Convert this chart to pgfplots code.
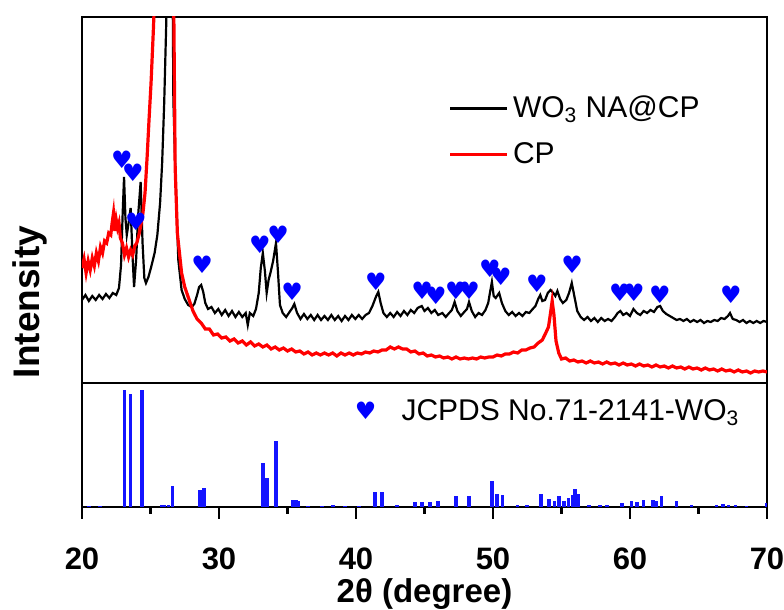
\documentclass[border=0pt]{standalone}
\usepackage{fontspec}
\setmainfont{Liberation Sans}
\newfontfamily\symfont{DejaVu Sans}
\usepackage{pgfplots}
\pgfplotsset{compat=1.18}
\newcommand{\hrt}{{\symfont ♥}}

\pgfplotstableread{
x y
20.0 83
20.25 88
20.5 82
20.75 87
21.0 83
21.25 88
21.5 84
21.75 89
22.0 85
22.25 90
22.5 88
22.7 95
22.85 118
22.97 170
23.07 206
23.17 165
23.27 148
23.4 160
23.55 175
23.68 130
23.8 96
23.95 123
24.1 168
24.28 201
24.42 140
24.55 105
24.67 100
24.85 106
25.05 116
25.3 130
25.5 148
25.7 180
25.85 220
26.0 280
26.15 360
26.3 480
26.45 560
26.6 430
26.67 283
26.84 200
27.03 123
27.27 93
27.5 84
27.75 78
28.0 76
28.2 79
28.4 88
28.55 96
28.7 98
28.85 91
29.0 80
29.2 74
29.45 76
29.7 70
29.95 74
30.2 68
30.45 73
30.7 67
30.95 72
31.2 66
31.45 71
31.7 66
31.95 70
32.1 58
32.25 70
32.5 67
32.7 74
32.9 90
33.05 115
33.2 130
33.35 112
33.48 90
33.62 103
33.77 111
33.95 122
34.16 140
34.3 112
34.45 78
34.65 70
34.9 66
35.15 71
35.35 75
35.5 79
35.7 70
35.95 64
36.2 69
36.45 64
36.7 68
36.95 63
37.2 68
37.45 63
37.7 67
37.95 63
38.2 68
38.45 63
38.7 67
38.95 62
39.2 67
39.45 63
39.7 68
39.95 64
40.2 68
40.45 64
40.7 68
40.95 70
41.2 77
41.45 86
41.63 91
41.8 80
42.0 70
42.25 66
42.5 70
42.75 66
43.0 71
43.25 67
43.5 72
43.75 68
44.0 73
44.25 70
44.5 75
44.8 77
45.0 72
45.25 75
45.5 70
45.75 73
46.0 68
46.3 70
46.55 66
46.8 70
47.0 73
47.2 81
47.4 72
47.65 67
47.9 71
48.1 74
48.25 81
48.45 72
48.7 66
48.95 70
49.2 68
49.45 73
49.65 80
49.8 92
49.92 101
50.05 87
50.2 85
50.45 90
50.65 80
50.9 72
51.15 68
51.4 71
51.65 67
51.9 70
52.15 67
52.4 71
52.65 70
52.9 74
53.1 77
53.3 84
53.45 88
53.6 82
53.8 83
54.0 90
54.2 93
54.4 90
54.55 87
54.7 92
54.9 84
55.1 80
55.35 83
55.55 90
55.75 100
55.95 86
56.15 72
56.4 66
56.65 63
56.9 66
57.15 62
57.4 65
57.65 61
57.9 65
58.15 62
58.4 64
58.65 62
58.9 66
59.1 70
59.3 72
59.5 68
59.75 70
60.0 67
60.25 74
60.5 70
60.75 68
61.0 72
61.25 70
61.5 73
61.75 71
62.0 76
62.2 77
62.4 72
62.65 69
62.9 67
63.15 65
63.4 63
63.65 64
63.9 62
64.15 64
64.4 61
64.65 63
64.9 61
65.15 63
65.4 60
65.65 62
65.9 61
66.15 63
66.4 62
66.65 65
66.9 64
67.15 67
67.3 70
67.5 64
67.75 63
68.0 61
68.25 63
68.5 60
68.75 62
69.0 60
69.25 62
69.5 60
69.75 62
70.0 61
}\wotable

\pgfplotstableread{
x y
20.0 115
20.15 124
20.3 110
20.45 122
20.6 113
20.75 125
20.9 117
21.05 130
21.2 122
21.35 136
21.5 130
21.65 142
21.8 140
21.95 150
22.1 148
22.2 160
22.3 170
22.4 152
22.5 163
22.6 155
22.7 160
22.8 145
22.95 140
23.1 128
23.25 135
23.4 126
23.55 133
23.7 128
23.85 137
24.0 140
24.15 148
24.3 158
24.45 170
24.6 190
24.75 225
24.9 265
25.04 300
25.2 350
25.4 420
25.8 600
26.3 650
26.65 450
26.8 216
26.96 150
27.27 110
27.5 96
27.8 84
28.1 72
28.4 64
28.7 60
29.0 54
29.3 54
29.6 48
29.9 49
30.2 45
30.5 46
30.8 42
31.1 44
31.4 40
31.7 42
32.0 38
32.3 41
32.6 37
32.9 39
33.2 36
33.5 38
33.8 34
34.1 36
34.4 33
34.7 35
35.0 32
35.3 34
35.6 31
35.9 32
36.2 29
36.5 31
36.8 28
37.1 30
37.4 28
37.7 30
38.0 28
38.3 30
38.6 27
38.9 30
39.2 28
39.5 30
39.8 28
40.1 30
40.4 29
40.7 31
41.0 30
41.3 32
41.6 31
41.9 33
42.2 33
42.5 36
42.8 34
43.1 36
43.4 34
43.7 34
44.0 31
44.3 32
44.6 29
44.9 30
45.2 27
45.5 28
45.8 26
46.1 27
46.4 25
46.7 26
47.0 24
47.3 26
47.6 24
47.9 25
48.2 24
48.5 25
48.8 24
49.1 26
49.4 25
49.7 26
50.0 26
50.3 28
50.6 27
50.9 29
51.2 29
51.5 31
51.8 30
52.1 33
52.4 33
52.7 35
53.0 36
53.3 40
53.6 43
53.85 50
54.05 56
54.2 70
54.32 82
54.45 68
54.6 42
54.8 30
55.0 24
55.3 25
55.6 22
55.9 23
56.2 21
56.5 22
56.8 20
57.1 22
57.4 20
57.7 21
58.0 19
58.3 21
58.6 19
58.9 20
59.2 18
59.5 20
59.8 18
60.1 19
60.4 17
60.7 19
61.0 17
61.3 18
61.6 16
61.9 18
62.2 16
62.5 17
62.8 15
63.1 17
63.4 15
63.7 16
64.0 14
64.3 16
64.6 14
64.9 15
65.2 13
65.5 15
65.8 13
66.1 14
66.4 12
66.7 14
67.0 12
67.3 13
67.6 11
67.9 13
68.2 11
68.5 12
68.8 10
69.1 12
69.4 11
69.7 12
70.0 11
}\cptable

\pgfplotstableread{
x y
22.92 223
23.72 210
23.94 161
28.76 118
32.99 138
34.31 148
35.33 91
41.46 101
44.82 92
45.84 87
47.30 92
48.25 92
49.78 114
50.58 106
53.21 99
55.77 118
59.27 90
60.29 90
62.19 88
67.37 88
}\hearts

\pgfplotstableread{
x y
20.5 1
21.3 1
23.11 100
23.53 96.5
24.38 100
25.8 1.5
26.0 1.5
26.3 2
26.6 18
28.6 14.5
28.9 16.5
33.2 38
33.5 25
34.16 56
35.4 6
35.6 6
35.8 5
36.5 1
37.5 1
38.3 1.5
39.2 1
40.2 1
41.4 13
41.9 13
43.0 1.5
44.3 4
44.8 4
45.4 4
46.0 5
47.3 9
48.25 9
49.94 22
50.3 11
50.7 10
51.8 1.5
52.5 1.5
53.5 11
54.1 7
54.5 5
54.8 9
55.2 5
55.5 8
55.8 10
55.97 15
56.2 11
57.0 1.5
57.8 2
58.3 2
59.4 3
60.1 5
60.5 4
61.0 6
61.7 6
61.9 5
62.3 9
63.4 5
64.5 1.5
66.3 2
66.8 2.5
67.2 2
67.7 2
68.5 1
70.0 3
}\sticks

\begin{document}
\begin{tikzpicture}
\useasboundingbox (-41pt,-51.5pt) rectangle (351pt,253.5pt);
\pgfplotsset{
  every axis/.append style={
    scale only axis, width=342.5pt,
    xmin=20, xmax=70,
    axis line style={line width=1.25pt},
  }
}
% bottom panel: reference lines
\begin{axis}[
  at={(0,0)}, anchor=south west, height=62pt,
  ymin=0, ymax=106, ytick=\empty,
  xtick={20,30,...,70}, minor xtick={25,35,...,65},
  tick align=outside, xtick pos=bottom,
  major tick length=6pt, minor tick length=3.5pt,
  tick style={black, line width=1.25pt},
  xticklabel style={font=\bfseries\fontsize{15.5}{15.5}\selectfont, inner sep=1pt},
  xticklabel shift=13pt,
  /pgf/number format/assume math mode=true,
  xlabel={2θ (degree)},
  xlabel style={font=\bfseries\fontsize{16.5}{18}\selectfont, at={(axis description cs:0.5,-0.7)}, anchor=center, inner sep=1pt},
  legend style={draw=none, fill=none, inner sep=0pt, at={(0.39,0.766)}, anchor=west,
    font=\fontsize{15}{17}\selectfont},
]
\addplot[ycomb, color={rgb,255:red,20;green,20;blue,255}, line width=1.8pt, forget plot] table {\sticks};
\addlegendimage{legend image code/.code={
  \path[draw=none, fill=none] (0pt,0pt) -- (24pt,0pt);
  \node[text=blue, font=\fontsize{12}{12}\selectfont, inner sep=0pt] at (8pt,0pt) {\hrt};}}
\addlegendentry{JCPDS No.71-2141-WO\textsubscript{3}}
\end{axis}
% top panel: measured patterns
\begin{axis}[
  at={(0,62pt)}, anchor=south west, height=183pt,
  ymin=0, ymax=366, xtick=\empty, ytick=\empty,
  ylabel={Intensity},
  ylabel style={font=\bfseries\fontsize{18.5}{20}\selectfont, at={(axis description cs:-0.076,0.221)}, anchor=center},
  legend style={draw=none, fill=none, inner sep=0pt, at={(0.535,0.796)}, anchor=north west,
    font=\fontsize{15}{17}\selectfont, row sep=7pt},
  legend cell align=left,
  legend image code/.code={\draw[#1] (0pt,0pt) -- (28.5pt,0pt);},
]
\addplot[black, line width=1.1pt] table {\wotable};
\addlegendentry{WO\textsubscript{3} NA@CP}
\addplot[red, line width=1.6pt] table {\cptable};
\addlegendentry{CP}
\addplot[blue, only marks, mark=text, text mark={\hrt}, text mark as node=true,
  text mark style={font=\fontsize{12}{12}\selectfont, inner sep=0pt}, forget plot] table {\hearts};
\end{axis}
\end{tikzpicture}
\end{document}
